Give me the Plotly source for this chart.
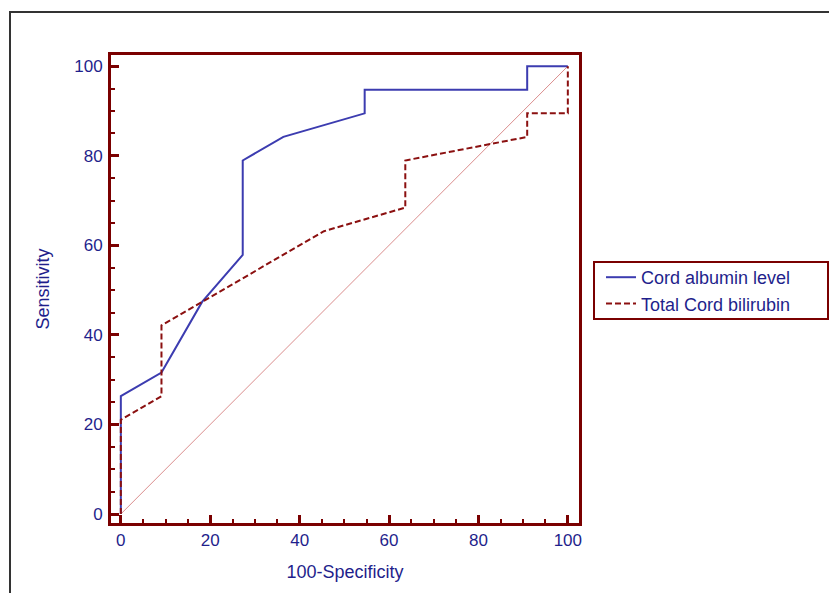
import plotly.graph_objects as go

# ROC data (100-Specificity, Sensitivity)
albumin_x = [0, 0, 9.09, 18.18, 27.27, 27.27, 36.36, 54.55, 54.55, 90.91, 90.91, 100]
albumin_y = [0, 26.32, 31.58, 47.37, 57.89, 78.95, 84.21, 89.47, 94.74, 94.74, 100, 100]

bili_x = [0, 0, 9.09, 9.09, 45.45, 63.64, 63.64, 90.91, 90.91, 100, 100]
bili_y = [0, 21.05, 26.32, 42.11, 63.16, 68.42, 78.95, 84.21, 89.47, 89.47, 100]

diag_x = [0, 100]
diag_y = [0, 100]

series_names = ["Cord albumin level", "Total Cord bilirubin"]
tick_vals = [0, 20, 40, 60, 80, 100]

NAVY = "#1f1f8c"
MAROON = "#7a0000"
FONT = "Liberation Sans, Arial, sans-serif"

fig = go.Figure()
fig.add_trace(go.Scatter(x=diag_x, y=diag_y, mode="lines",
                         line=dict(color="#d07070", width=0.8),
                         showlegend=False, hoverinfo="skip"))
fig.add_trace(go.Scatter(x=albumin_x, y=albumin_y, mode="lines", name=series_names[0],
                         line=dict(color="#3c3cb0", width=2)))
fig.add_trace(go.Scatter(x=bili_x, y=bili_y, mode="lines", name=series_names[1],
                         line=dict(color="#8b1010", width=2, dash="6px,3px")))

axis_common = dict(
    showgrid=False, zeroline=False,
    showline=True, mirror=True, linecolor=MAROON, linewidth=3,
    ticks="inside", ticklen=8, tickwidth=3, tickcolor=MAROON,
    tickvals=tick_vals,
    tickfont=dict(family=FONT, size=17, color=NAVY),
    minor=dict(ticks="inside", ticklen=4, tickwidth=2, tickcolor=MAROON, dtick=5),
)

# page body has an 8px margin: work in page pixels, then offset
OFF = 8
W, H = 837 - OFF, 593 - OFF
L, R, T, B = 111 - OFF, 837 - 579, 55 - OFF, 593 - 523
pw = W - L - R
ph = H - T - B

def px_x(p):
    return (p - OFF - L) / pw

def px_y(p):
    return (H - B - (p - OFF)) / ph

fig.update_xaxes(range=[-2.2, 102.5], title=dict(text="100-Specificity",
                 font=dict(family=FONT, size=18, color=NAVY), standoff=16),
                 **axis_common)
fig.update_yaxes(range=[-2.0, 102.5], title=dict(text="Sensitivity",
                 font=dict(family=FONT, size=18, color=NAVY), standoff=20),
                 ticklabelstandoff=2, **axis_common)

fig.update_layout(
    width=W, height=H,
    margin=dict(l=L, r=R, t=T, b=B),
    paper_bgcolor="white", plot_bgcolor="white",
    font=dict(family=FONT, color=NAVY),
    legend=dict(x=px_x(601), y=px_y(259), xanchor="left", yanchor="top",
                bgcolor="rgba(0,0,0,0)", borderwidth=0,
                font=dict(family=FONT, size=18, color=NAVY),
                tracegroupgap=0, itemwidth=30),
    shapes=[
        dict(type="rect", xref="paper", yref="paper",
             x0=px_x(594), x1=px_x(828), y0=px_y(319), y1=px_y(262),
             line=dict(color=MAROON, width=2), fillcolor="rgba(0,0,0,0)"),
        dict(type="rect", xref="paper", yref="paper",
             x0=px_x(10), x1=px_x(900), y0=px_y(650), y1=px_y(12),
             line=dict(color="#333333", width=2), fillcolor="rgba(0,0,0,0)"),
    ],
)

fig.write_html("out.html")
